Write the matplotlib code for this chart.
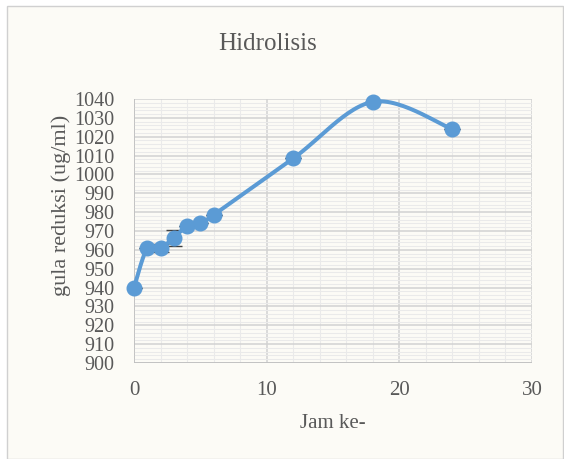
import numpy as np
import matplotlib.pyplot as plt
from matplotlib.patches import Rectangle
from matplotlib.ticker import MultipleLocator

plt.rcParams["font.family"] = ["Liberation Serif", "DejaVu Serif"]

# data
jam = [0, 1, 2, 3, 4, 5, 6, 12, 18, 24]
gula = [940, 961, 961, 966.5, 972.5, 974, 978.5, 1008.5, 1038.5, 1024]
err = [0, 0, 2.3, 4.2, 0, 0, 0, 0, 0, 0]

TEXT = "#595959"
BLUE = "#5B9BD5"

W, H = 564, 459
fig = plt.figure(figsize=(W / 100, H / 100), dpi=100)
fig.patch.set_facecolor("white")

# chart area border
fig.add_artist(Rectangle((7 / W, 0), (563 - 7) / W, 1 - 6 / H,
                         transform=fig.transFigure, facecolor="#FCFBF6",
                         edgecolor="#D0D0D0", lw=1.0, zorder=-5))

x0, x1, y0, y1 = 134, 532, 99, 363
ax = fig.add_axes([x0 / W, 1 - y1 / H, (x1 - x0) / W, (y1 - y0) / H])
ax.set_zorder(2)
ax.set_facecolor("none")

ax.set_xlim(0, 30)
ax.set_ylim(900, 1040)
ax.xaxis.set_major_locator(MultipleLocator(10))
ax.xaxis.set_minor_locator(MultipleLocator(2))
ax.yaxis.set_major_locator(MultipleLocator(10))
ax.yaxis.set_minor_locator(MultipleLocator(2))
ax.grid(which="major", color="#D2D2D2", lw=1.1)
ax.grid(which="minor", color="#EAEAEA", lw=0.8)
ax.set_axisbelow(True)
for s in ax.spines.values():
    s.set_visible(False)
ax.tick_params(which="both", length=0, colors=TEXT)
ax.tick_params(axis="y", labelsize=14.5, pad=14)
ax.tick_params(axis="x", labelsize=15, pad=13)
ax.axhline(900, color="#BFBFBF", lw=1.2, zorder=1)
ax.axvline(0, color="#BFBFBF", lw=1.2, zorder=1)


# Excel style smoothed line (bezier through points, done in pixel space)
def smooth(xs, ys, n=30):
    px = np.asarray(xs, float) / 30 * (x1 - x0)
    py = (np.asarray(ys, float) - 900) / 140 * (y1 - y0)
    P = np.column_stack([px, py])
    out = []
    for i in range(len(P) - 1):
        p0 = P[max(i - 1, 0)]
        p1 = P[i]
        p2 = P[i + 1]
        p3 = P[min(i + 2, len(P) - 1)]
        c1 = p1 + (p2 - p0) / 6
        c2 = p2 - (p3 - p1) / 6
        t = np.linspace(0, 1, n)[:, None]
        seg = ((1 - t) ** 3 * p1 + 3 * (1 - t) ** 2 * t * c1
               + 3 * (1 - t) * t ** 2 * c2 + t ** 3 * p2)
        out.append(seg)
    out = np.vstack(out)
    return out[:, 0] / (x1 - x0) * 30, out[:, 1] / (y1 - y0) * 140 + 900


sx, sy = smooth(jam, gula)
ax.plot(sx, sy, color=BLUE, lw=2.9, zorder=3, solid_capstyle="round",
        clip_on=False)
ax.errorbar(jam, gula, yerr=err, fmt="none", ecolor="#404040", elinewidth=1,
            capsize=6, capthick=1, zorder=2.5)
ax.plot(jam, gula, "o", color=BLUE, ms=10.5, zorder=4, clip_on=False)

fig.text(268 / W, 1 - 44 / H, "Hidrolisis", ha="center", va="center",
         fontsize=18, color=TEXT)
fig.text(333 / W, 1 - 423 / H, "Jam ke-", ha="center", va="center",
         fontsize=15, color=TEXT)
fig.text(61 / W, 1 - 205 / H, "gula reduksi (ug/ml)", ha="center",
         va="center", rotation=90, fontsize=16, color=TEXT)

fig.savefig("out.png", dpi=100)
